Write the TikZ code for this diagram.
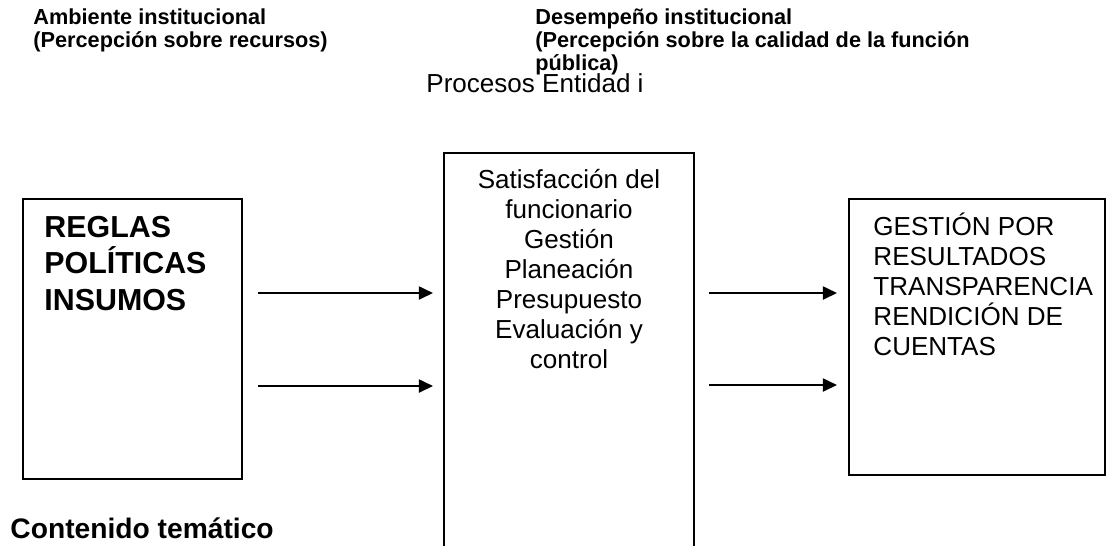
\documentclass[tikz,border=0pt]{standalone}
\usepackage{fontspec}
\setmainfont{Liberation Sans}
\usetikzlibrary{arrows.meta}
\tikzset{
  caja/.style={draw,line width=0.9pt,inner sep=0pt},
  titulo/.style={font=\fontsize{10}{10.6}\selectfont\bfseries,align=left,anchor=base west,inner sep=0pt},
  texto/.style={font=\fontsize{12}{13.8}\selectfont,inner sep=0pt},
  flecha/.style={line width=0.9pt,-{Triangle[length=6.5pt,width=6pt]}}
}
\begin{document}
\begin{tikzpicture}[x=0.4608pt,y=-0.4608pt]
  \useasboundingbox (0,0) rectangle (1113,546);

  \node[titulo] (amb) at (33,47) {Ambiente institucional\\(Percepción sobre recursos)};
  \node[titulo] (des) at (535,70) {Desempeño institucional\\(Percepción sobre la calidad de la función\\pública)};
  \node[texto,anchor=base west] (proc) at (426,92) {Procesos Entidad i};

  \node[caja,minimum width=100.9pt,minimum height=129pt] (reglas) at (132.5,339) {};
  \node[font=\fontsize{14}{16.6}\selectfont\bfseries,align=left,anchor=base west,inner sep=0pt]
  (reglastxt) at (44,310) {REGLAS\\POLÍTICAS\\INSUMOS};

  \coordinate (p1) at (444,546);
  \coordinate (p2) at (444,153);
  \coordinate (p3) at (694,153);
  \coordinate (p4) at (694,546);
  \draw[line width=0.9pt] (p1) -- (p2) -- (p3) -- (p4);
  \node[texto,align=center,anchor=base] (procs) at (569,368)
  {Satisfacción del\\funcionario\\Gestión\\Planeación\\Presupuesto\\Evaluación y\\control};

  \node[caja,minimum width=118pt,minimum height=127.2pt] (gestion) at (977,337) {};
  \node[texto,align=left,anchor=base west] (gestiontxt) at (873,355)
  {GESTIÓN POR\\RESULTADOS\\TRANSPARENCIA\\RENDICIÓN DE\\CUENTAS};

  \node[font=\fontsize{13}{15}\selectfont\bfseries,anchor=base west,inner sep=0pt] (cont) at (10,538) {Contenido temático};

  \coordinate (a1) at (258,293);
  \coordinate (b1) at (433,293);
  \coordinate (a2) at (258,386);
  \coordinate (b2) at (433,386);
  \coordinate (c1) at (709,293);
  \coordinate (d1) at (837,293);
  \coordinate (c2) at (709,385);
  \coordinate (d2) at (837,385);
  \draw[flecha] (a1) -- (b1);
  \draw[flecha] (a2) -- (b2);
  \draw[flecha] (c1) -- (d1);
  \draw[flecha] (c2) -- (d2);
\end{tikzpicture}
\end{document}
